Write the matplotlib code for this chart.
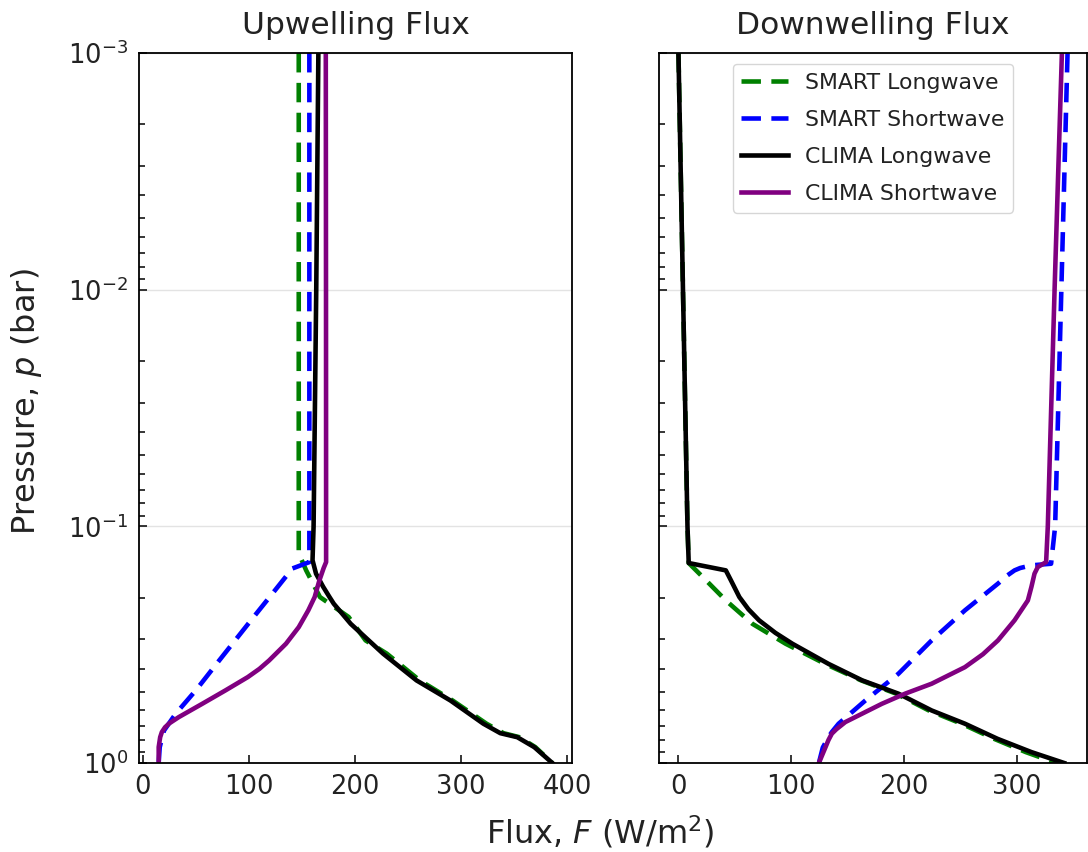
import matplotlib
matplotlib.use("Agg")
import matplotlib.pyplot as plt
from matplotlib.ticker import LogLocator

# ---------------- data ----------------
# Upwelling flux (W/m^2) vs pressure (bar)
up_smart_lw_p = [0.001, 0.01, 0.1, 0.130, 0.1535, 0.199, 0.2415, 0.3034, 0.3451, 0.4477, 0.5445, 0.6823, 0.7482, 0.7780, 0.8570, 1.0]
up_smart_lw_F = [147, 147, 147, 147, 154, 167, 194, 210, 230, 261, 292, 324, 340, 355, 370, 386]

up_smart_sw_p = [0.001, 0.01, 0.1, 0.1416, 0.1507, 0.1928, 0.2495, 0.3690, 0.4932, 0.6194, 0.7295, 0.857, 1.0]
up_smart_sw_F = [157, 157, 157, 157, 141, 122, 102, 72, 50, 31, 20, 16, 15]

up_clima_lw_p = [0.001, 0.01, 0.1, 0.139, 0.1585, 0.1637, 0.180, 0.199, 0.2123, 0.2582, 0.3451, 0.4477, 0.5445, 0.6823, 0.7482, 0.7780, 0.8570, 1.0]
up_clima_lw_F = [165.5, 163.5, 161, 160, 163.3, 165, 170, 176, 180, 196, 226.5, 258, 290, 321, 337, 353, 369, 386]

up_clima_sw_p = [0.001, 0.01, 0.1, 0.1416, 0.150, 0.169, 0.199, 0.2265, 0.2667, 0.3133, 0.369, 0.4000, 0.4335, 0.4932, 0.5623, 0.6397, 0.6800, 0.7063, 0.7400, 0.778, 0.857, 1.0]
up_clima_sw_F = [172.5, 172.7, 172.8, 172.8, 170.5, 166.5, 162, 156, 147, 135, 119, 110, 99, 78, 56, 34, 25, 21, 18, 16.4, 15, 15]

# Downwelling flux (W/m^2) vs pressure (bar)
dn_smart_lw_p = [0.001, 0.01, 0.1, 0.1429, 0.1637, 0.2056, 0.2582, 0.3133, 0.3811, 0.4477, 0.5093, 0.5998, 0.6823, 0.7907, 0.8995, 1.0]
dn_smart_lw_F = [0, 4, 8, 9.1, 21.5, 42, 65.6, 95, 130, 162, 193, 222, 251, 280, 308, 335]

dn_smart_sw_p = [0.001, 0.01, 0.1, 0.1439, 0.1462, 0.150, 0.1535, 0.1620, 0.1746, 0.2265, 0.3034, 0.4198, 0.5445, 0.6823, 0.740, 0.778, 0.860, 1.0]
dn_smart_sw_F = [345, 339.5, 334, 330.4, 312.7, 303, 298, 291, 283.3, 254, 224.5, 195, 165.7, 142, 136, 133, 128, 124.5]

dn_clima_lw_p = [0.001, 0.01, 0.1, 0.1429, 0.1535, 0.169, 0.199, 0.224, 0.2495, 0.282, 0.3133, 0.3811, 0.4477, 0.5093, 0.5998, 0.6823, 0.7907, 0.8995, 1.0]
dn_clima_lw_F = [0, 4, 8, 9.1, 42, 46.5, 54, 62, 71.5, 86, 101, 133, 163, 195, 224.5, 254, 283, 313, 342]

dn_clima_sw_p = [0.001, 0.01, 0.1, 0.1416, 0.1486, 0.1585, 0.180, 0.2056, 0.2495, 0.3034, 0.347, 0.3936, 0.4624, 0.5093, 0.5623, 0.6714, 0.7200, 0.7516, 0.800, 0.857, 1.0]
dn_clima_sw_F = [340, 333.5, 327.5, 326, 318.6, 315.7, 313, 309.8, 298, 283.3, 270, 254, 224.5, 201, 180.3, 148, 140, 136, 133, 130.4, 124.5]

series_labels = ["SMART Longwave", "SMART Shortwave", "CLIMA Longwave", "CLIMA Shortwave"]
series_colors = ["green", "blue", "black", "purple"]
panel_titles = ["Upwelling Flux", "Downwelling Flux"]

# ---------------- plot ----------------
plt.rcParams['lines.scale_dashes'] = False
TXT = "#222222"

fig = plt.figure(figsize=(10.88, 8.52), dpi=100)
axL = fig.add_axes([139/1088, 1 - 763/852, 433/1088, 710/852])
axR = fig.add_axes([659/1088, 1 - 763/852, 428/1088, 710/852], sharey=axL)

lw = 3.3
dash = (0, (14, 7.5))
panels = [
    (axL, [(up_smart_lw_F, up_smart_lw_p), (up_smart_sw_F, up_smart_sw_p),
           (up_clima_lw_F, up_clima_lw_p), (up_clima_sw_F, up_clima_sw_p)]),
    (axR, [(dn_smart_lw_F, dn_smart_lw_p), (dn_smart_sw_F, dn_smart_sw_p),
           (dn_clima_lw_F, dn_clima_lw_p), (dn_clima_sw_F, dn_clima_sw_p)]),
]
for (ax, data), title in zip(panels, panel_titles):
    for i, (F, p) in enumerate(data):
        ls = dash if i < 2 else '-'
        ax.plot(F, p, color=series_colors[i], lw=lw, linestyle=ls, label=series_labels[i],
                solid_joinstyle='round')
    ax.set_yscale('log')
    ax.set_title(title, fontsize=22.5, color=TXT, pad=14)
    ax.grid(True, axis='y', which='major', color='#e3e3e3', lw=1.0)
    ax.set_axisbelow(True)
    ax.tick_params(which='both', direction='in', labelsize=18.5, labelcolor=TXT, pad=8, width=1.1)
    ax.tick_params(which='major', length=6)
    ax.tick_params(which='minor', length=4.5)
    ax.yaxis.set_minor_locator(LogLocator(base=10, subs=range(2, 10), numticks=20))
    for s in ax.spines.values():
        s.set_linewidth(1.3)

axL.set_ylim(1, 1e-3)
axR.tick_params(axis='y', which='both', labelleft=False)

leg = axR.legend(loc='upper center', fontsize=15.8, handlelength=2.1, labelspacing=0.78,
                 framealpha=0.8)
for t in leg.get_texts():
    t.set_color(TXT)

fig.text(27/1088, 1 - 402/852, r'Pressure, $p$ (bar)', rotation=90, ha='center', va='center',
         fontsize=23, color=TXT)
fig.text(600/1088, 1 - 832/852, r'Flux, $F$ (W/m$^2$)', ha='center', va='center',
         fontsize=23, color=TXT)

fig.savefig("out.png", dpi=100)
